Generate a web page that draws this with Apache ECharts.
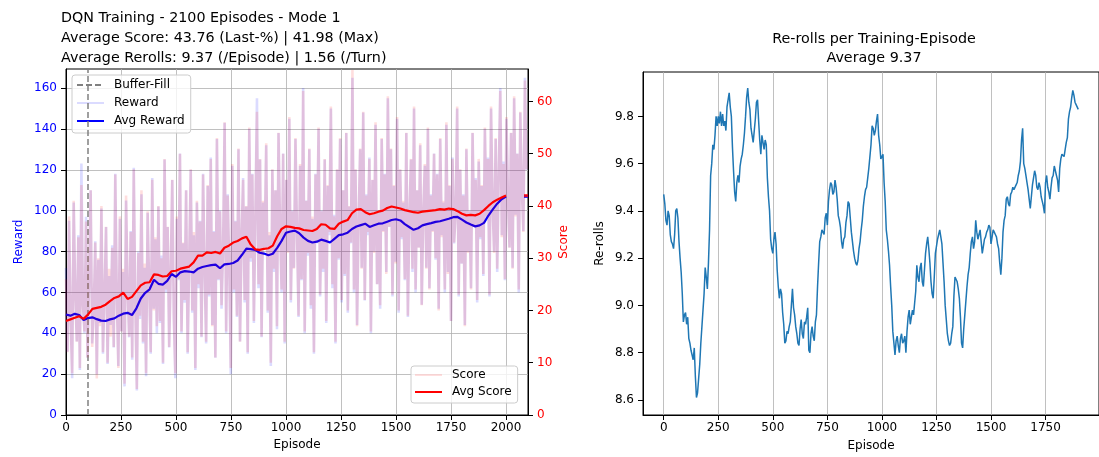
<!DOCTYPE html>
<html><head><meta charset="utf-8">
<script src="https://cdn.jsdelivr.net/npm/echarts@6/dist/echarts.min.js"></script>
<style>html,body{margin:0;padding:0;background:#fff}#c{width:1099px;height:457px}</style>
</head><body><div id="c"></div>
<script>
// ---------------- DATA ----------------
const rawStride = 7; // episodes between stored raw samples
const rewardRaw = [
72,31,95,48,18,104,60,36,88,22,123,54,40,97,28,66,110,35,50,85,20,76,45,101,30,58,92,25,68,44,
83,33,118,57,24,96,41,70,14,105,62,38,90,27,121,55,12,80,47,108,35,72,19,99,64,30,116,52,86,40,
102,45,78,25,125,60,92,33,70,115,48,18,96,66,128,40,84,55,110,30,76,120,50,88,22,104,62,95,38,118,
70,35,112,58,126,44,90,28,135,66,100,52,81,143,40,108,73,20,122,60,95,48,130,36,87,116,55,102,30,140,
75,118,45,98,155,62,125,38,104,82,132,50,88,24,120,70,110,42,138,92,60,128,35,115,80,145,55,100,72,135,
90,48,122,66,160,40,105,78,130,52,96,30,118,84,140,58,100,70,125,45,112,88,150,62,98,35,120,76,135,55,
110,68,138,50,102,84,165,60,120,44,95,130,72,148,56,108,88,126,40,115,80,142,64,100,52,135,90,118,70,155,
92,130,58,112,75,145,50,120,86,104,66,138,48,98,125,70,150,60,110,82,132,54,100,122,72,140,62,108,90,128,
76,118,52,135,88,104,60,142,70,112,46,126,84,98,150,58,120,74,108,44,130,80,100,62,138,92,116,55,124,86,
112,68,140,96,126,58,150,102,80,135,70,118,160,88,124,66,145,106,82,138,72,155,98,128,60,148,110,90,165,120
];
const scoreRaw = [
26,12,38,18,8,41,23,14,34,9,44,21,16,37,11,27,43,13,20,33,7,30,17,40,12,23,36,10,28,15,
32,13,46,22,9,38,16,28,6,42,24,15,35,11,47,21,5,31,19,43,14,29,8,39,25,12,45,20,34,17,
40,18,30,10,49,24,36,13,28,45,19,8,38,26,50,16,33,22,43,12,30,47,20,35,9,41,25,37,15,46,
28,14,44,23,49,17,35,11,53,26,39,21,32,56,16,42,29,9,48,24,37,19,51,14,34,45,22,40,12,55,
30,46,18,39,58,25,49,15,41,32,52,20,35,10,47,28,43,17,54,36,24,50,14,45,31,57,22,39,28,53,
35,19,48,26,62,16,41,31,51,21,38,12,46,33,55,23,39,28,49,18,44,35,59,25,38,14,47,30,53,22,
43,27,54,20,40,33,66,24,47,17,37,51,28,58,22,42,35,49,16,45,31,56,25,39,21,53,35,46,27,61,
36,51,23,44,29,57,20,47,34,41,26,54,19,38,49,28,59,24,43,32,52,21,39,48,28,55,24,42,35,50,
30,46,20,53,34,41,24,56,27,44,18,49,33,38,59,23,47,29,42,17,51,31,39,24,54,36,45,22,49,34,
44,27,55,38,49,23,59,40,31,53,28,46,62,34,48,26,57,41,32,54,28,61,38,50,24,58,43,35,64,47
];
const avgStride = 20;
const avgReward = [
49.2,48.6,49.5,48.9,46.5,47.4,47.8,46.9,46.2,46.0,
46.8,47.3,48.6,49.6,50.0,48.9,52.2,57.0,59.8,61.5,
66.2,64.2,63.8,65.6,69.0,67.6,69.8,70.4,70.2,69.8,
71.6,72.4,72.9,73.3,73.6,71.8,73.7,73.9,74.4,75.6,
78.4,81.4,81.2,80.8,79.4,79.0,78.2,78.9,81.8,85.2,
89.2,89.8,90.2,88.9,86.8,85.2,84.4,84.8,85.8,85.2,
84.4,86.2,88.0,88.4,89.2,91.0,92.2,92.9,93.6,92.0,
92.8,93.6,93.8,94.6,95.4,95.8,95.2,93.4,92.0,90.6,
91.4,92.8,93.4,93.9,94.5,94.8,95.4,96.0,96.8,96.9,
95.6,94.2,93.2,92.3,92.8,94.0,97.6,100.6,103.4,105.6,
106.9
];
const avgScore = [
18.0,18.3,18.6,18.9,18.4,19.2,20.3,20.5,20.7,21.1,
21.8,22.4,22.7,23.4,22.2,22.6,23.7,24.8,25.3,25.4,
26.9,26.8,26.5,26.6,27.5,27.6,28.0,28.2,28.4,29.2,
30.5,30.5,31.1,31.0,31.2,30.9,32.0,32.4,33.0,33.3,
33.8,34.1,32.6,31.7,31.6,31.8,31.9,32.4,34.2,35.6,
36.1,36.0,35.8,35.7,35.4,35.3,35.2,35.6,36.5,36.4,
35.7,35.6,36.6,37.0,37.3,38.6,39.3,39.4,38.8,38.4,
38.6,38.9,39.1,39.6,39.9,39.7,39.5,39.2,39.0,38.8,
38.7,38.9,39.0,39.1,39.2,39.4,39.3,39.5,39.4,39.0,
38.5,38.2,38.3,38.2,38.5,39.2,40.0,40.7,41.2,41.6,
42.0
];
const bufferFill = 100;
const totalEpisodes = 2100;
const maxScore = 41.98;
const lastAvgReward = 106.9;
const rerollStride = 5;
const rerolls = [
9.47,9.43,9.36,9.34,9.40,9.38,9.30,9.27,9.26,9.24,9.30,9.40,9.41,9.37,9.27,9.20,9.14,9.05,8.93,8.96,
8.97,8.92,8.95,8.86,8.84,8.81,8.79,8.77,8.82,8.70,8.61,8.63,8.69,8.75,8.84,8.91,8.98,9.05,9.16,9.12,
9.07,9.18,9.32,9.55,9.60,9.68,9.66,9.72,9.80,9.76,9.80,9.77,9.82,9.76,9.81,9.76,9.78,9.74,9.84,9.87,
9.90,9.84,9.80,9.67,9.57,9.48,9.44,9.52,9.55,9.52,9.59,9.62,9.64,9.68,9.73,9.80,9.88,9.92,9.86,9.83,
9.75,9.72,9.69,9.74,9.79,9.86,9.87,9.78,9.70,9.64,9.72,9.69,9.66,9.70,9.68,9.54,9.46,9.40,9.28,9.24,
9.22,9.28,9.31,9.26,9.15,9.08,9.03,9.07,9.05,8.97,8.92,8.84,8.85,8.89,8.88,8.91,8.93,9.00,9.07,8.99,
8.96,8.91,8.88,8.84,8.83,8.90,8.94,8.88,8.86,8.93,8.92,8.95,8.99,8.81,8.80,8.88,8.91,8.87,8.85,8.93,
8.96,9.08,9.18,9.27,9.29,9.32,9.31,9.30,9.37,9.39,9.34,9.44,9.49,9.52,9.51,9.47,9.48,9.53,9.50,9.45,
9.38,9.36,9.33,9.27,9.24,9.28,9.29,9.35,9.38,9.44,9.43,9.37,9.31,9.27,9.23,9.20,9.18,9.17,9.19,9.24,
9.27,9.32,9.36,9.42,9.46,9.49,9.50,9.54,9.58,9.63,9.68,9.76,9.75,9.72,9.74,9.78,9.81,9.72,9.68,9.62,
9.62,9.64,9.52,9.44,9.32,9.28,9.23,9.17,9.08,9.00,8.89,8.84,8.79,8.85,8.87,8.83,8.80,8.86,8.88,8.84,
8.85,8.87,8.80,8.89,8.95,8.98,8.92,8.95,8.98,8.96,9.01,9.06,9.17,9.12,9.10,9.16,9.18,9.10,9.08,9.15,
9.22,9.26,9.29,9.24,9.18,9.10,9.05,9.03,9.12,9.22,9.25,9.28,9.30,9.32,9.29,9.26,9.18,9.10,9.00,8.94,
8.88,8.85,8.83,8.84,8.88,8.91,9.04,9.12,9.12,9.10,9.07,9.03,8.95,8.84,8.82,8.90,8.96,9.02,9.08,9.13,
9.16,9.22,9.27,9.29,9.24,9.27,9.36,9.31,9.28,9.30,9.32,9.27,9.22,9.25,9.28,9.29,9.31,9.32,9.34,9.33,
9.26,9.29,9.32,9.31,9.30,9.29,9.26,9.24,9.18,9.13,9.20,9.31,9.36,9.38,9.45,9.46,9.43,9.42,9.47,9.48,
9.50,9.49,9.49,9.51,9.52,9.55,9.57,9.61,9.70,9.75,9.60,9.58,9.55,9.52,9.49,9.45,9.41,9.46,9.51,9.54,
9.57,9.55,9.50,9.49,9.52,9.50,9.46,9.44,9.42,9.39,9.52,9.55,9.50,9.48,9.45,9.50,9.54,9.55,9.59,9.57,
9.55,9.53,9.48,9.58,9.62,9.64,9.64,9.63,9.66,9.69,9.71,9.79,9.82,9.84,9.88,9.91,9.89,9.86,9.85,9.85,
9.83
];
const xTicksLeft = [0,250,500,750,1000,1250,1500,1750,2000];
const yTicksReward = [0,20,40,60,80,100,120,140,160];
const yTicksScore = [0,10,20,30,40,50,60];
const xTicksRight = [0,250,500,750,1000,1250,1500,1750];
const yTicksRerolls = [8.6,8.8,9.0,9.2,9.4,9.6,9.8];
const titleLeft = 'DQN Training - 2100 Episodes - Mode 1\nAverage Score: 43.76 (Last-%) | 41.98 (Max)\nAverage Rerolls: 9.37 (/Episode) | 1.56 (/Turn)';
const titleRight = 'Re-rolls per Training-Episode\nAverage 9.37';

// ---------------- CHART ----------------
const FONT = 'DejaVu Sans';
const pairs = (arr, stride) => arr.map((v, i) => [i * stride, v]);
const gridLine = {show: true, lineStyle: {color: '#b0b0b0', width: 0.8}};
const axLine = {show: true, onZero: false, lineStyle: {color: '#000', width: 1}};
function tick(vals){ return {show: true, length: 5, inside: false, customValues: vals, lineStyle: {color: '#000', width: 1}}; }
function lab(vals, color, extra){ return Object.assign({customValues: vals, fontSize: 12, color: color, fontFamily: FONT, margin: 8,
  formatter: v => String(v)}, extra || {}); }

const chart = echarts.init(document.getElementById('c'), null, {renderer: 'canvas'});
const legendBase = {
  orient: 'vertical', itemWidth: 27, itemHeight: 14, selectedMode: false,
  itemStyle: {opacity: 0, borderWidth: 0},
  backgroundColor: 'rgba(255,255,255,0.8)', borderColor: '#cccccc', borderWidth: 1, borderRadius: 3,
  textStyle: {fontSize: 12, color: '#000', fontFamily: FONT, padding: [0, 0, 0, 5]}
};
chart.setOption({
  animation: false,
  textStyle: {fontFamily: FONT},
  title: [
    {text: titleLeft, left: 61, top: 8, padding: 0,
     textStyle: {fontSize: 14.3, fontWeight: 'normal', color: '#000', lineHeight: 20, fontFamily: FONT}},
    {text: titleRight, left: 874, top: 30, padding: 0, textAlign: 'center',
     textStyle: {fontSize: 14.3, fontWeight: 'normal', color: '#000', lineHeight: 19, fontFamily: FONT}}
  ],
  legend: [
    Object.assign({}, legendBase, {data: ['Buffer-Fill', 'Reward', 'Avg Reward'], left: 72, top: 75, itemGap: 6, padding: [4, 6, 6, 4]}),
    Object.assign({}, legendBase, {data: ['Score', 'Avg Score'], left: 411, top: 366, itemGap: 5, padding: [3, 6, 5, 3]})
  ],
  grid: [
    {left: 66, top: 69, width: 462, height: 346, show: true, borderColor: '#000', borderWidth: 1, backgroundColor: 'transparent'},
    {left: 643, top: 72, width: 462, height: 345, show: true, borderColor: '#000', borderWidth: 1, backgroundColor: 'transparent'}
  ],
  xAxis: [
    {type: 'value', gridIndex: 0, min: 0, max: totalEpisodes, name: 'Episode', nameLocation: 'middle', nameGap: 24,
     nameTextStyle: {fontSize: 12, color: '#000', fontFamily: FONT},
     axisLine: axLine, axisTick: tick(xTicksLeft), axisLabel: lab(xTicksLeft, '#000', {margin: 7}), splitLine: gridLine},
    {type: 'value', gridIndex: 1, min: -95, max: 1995, name: 'Episode', nameLocation: 'middle', nameGap: 25,
     nameTextStyle: {fontSize: 12, color: '#000', fontFamily: FONT},
     axisLine: axLine, axisTick: tick(xTicksRight), axisLabel: lab(xTicksRight, '#000', {margin: 7}), splitLine: gridLine}
  ],
  yAxis: [
    {type: 'value', gridIndex: 0, position: 'left', min: 0, max: 169.3, name: 'Reward', nameLocation: 'middle', nameGap: 41,
     nameTextStyle: {fontSize: 12, color: '#0000ff', fontFamily: FONT},
     axisLine: axLine, axisTick: tick(yTicksReward), axisLabel: lab(yTicksReward, '#0000ff', {margin: 9}), splitLine: gridLine},
    {type: 'value', gridIndex: 0, position: 'right', min: 0, max: 66.2, name: 'Score', nameLocation: 'middle', nameGap: 30,
     nameTextStyle: {fontSize: 12, color: '#ff0000', fontFamily: FONT},
     axisLine: axLine, axisTick: tick(yTicksScore), axisLabel: lab(yTicksScore, '#ff0000', {margin: 9}), splitLine: {show: false}},
    {type: 'value', gridIndex: 1, position: 'left', min: 8.536, max: 9.988, name: 'Re-rolls', nameLocation: 'middle', nameGap: 37,
     nameTextStyle: {fontSize: 12, color: '#000', fontFamily: FONT},
     axisLine: axLine, axisTick: tick(yTicksRerolls),
     axisLabel: lab(yTicksRerolls, '#000', {margin: 9, formatter: v => Number(v).toFixed(1)}), splitLine: {show: false}}
  ],
  series: [
    {name: 'Reward', type: 'line', xAxisIndex: 0, yAxisIndex: 0, data: pairs(rewardRaw, rawStride), symbol: 'none',
     lineStyle: {color: '#0000ff', width: 2.6, opacity: 0.14}, itemStyle: {color: '#0000ff'}, z: 2},
    {name: 'Buffer-Fill', type: 'line', xAxisIndex: 0, yAxisIndex: 0, data: [], symbol: 'none',
     lineStyle: {color: '#808080', width: 1.5, type: [6, 3]}, itemStyle: {color: '#808080'}, z: 3,
     markLine: {silent: true, symbol: 'none', label: {show: false},
       lineStyle: {color: '#808080', width: 1.5, type: [6, 3]}, data: [{xAxis: bufferFill}]}},
    {name: 'Avg Reward', type: 'line', xAxisIndex: 0, yAxisIndex: 0, data: pairs(avgReward, avgStride), symbol: 'none',
     lineStyle: {color: '#0000ff', width: 2.2}, itemStyle: {color: '#0000ff'}, z: 4},
    {name: 'Score', type: 'line', xAxisIndex: 0, yAxisIndex: 1, data: pairs(scoreRaw, rawStride), symbol: 'none',
     lineStyle: {color: '#ff0000', width: 2.6, opacity: 0.13}, itemStyle: {color: '#ff0000'}, z: 5},
    {name: 'Avg Score', type: 'line', xAxisIndex: 0, yAxisIndex: 1, data: pairs(avgScore, avgStride), symbol: 'none',
     lineStyle: {color: '#ff0000', width: 2.2}, itemStyle: {color: '#ff0000'}, z: 6},
    {name: 'lastReward', type: 'scatter', xAxisIndex: 0, yAxisIndex: 0, data: [[totalEpisodes, lastAvgReward]],
     symbol: 'rect', symbolSize: [4, 3], symbolOffset: [-2, 0], itemStyle: {color: '#0000ff'}, z: 7, clip: false},
    {name: 'maxScore', type: 'scatter', xAxisIndex: 0, yAxisIndex: 1, data: [[totalEpisodes, maxScore]],
     symbol: 'rect', symbolSize: [4, 3], symbolOffset: [-2, 0], itemStyle: {color: '#ff0000'}, z: 8, clip: false},
    {name: 'Re-rolls', type: 'line', xAxisIndex: 1, yAxisIndex: 2, data: pairs(rerolls, rerollStride), symbol: 'none',
     lineStyle: {color: '#1f77b4', width: 1.5}, itemStyle: {color: '#1f77b4'}, z: 3}
  ]
});
</script>
</body></html>
